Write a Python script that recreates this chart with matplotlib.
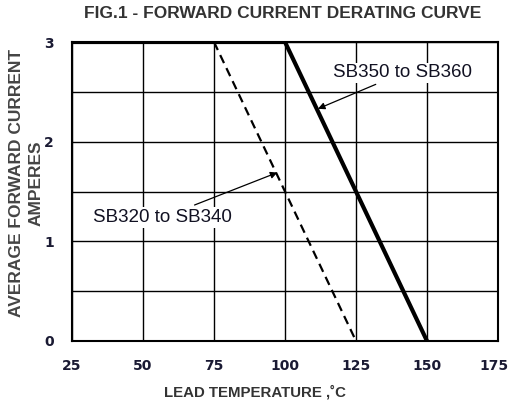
import matplotlib
matplotlib.use("Agg")
import matplotlib.pyplot as plt
import matplotlib.transforms as mtransforms
import numpy as np

# Data
temp_sb350 = [25, 100, 150]
curr_sb350 = [3, 3, 0]
temp_sb320 = [75, 125]
curr_sb320 = [3, 0]
x_ticks = [25, 50, 75, 100, 125, 150, 175]
y_ticks = [0, 1, 2, 3]
label_sb350 = "SB350 to SB360"
label_sb320 = "SB320 to SB340"

fig = plt.figure(figsize=(5.10, 4.07), dpi=100)
W, H = 510, 407
ax = fig.add_axes([72 / W, 1 - 341 / H, (498 - 72) / W, (341 - 42) / H])

ax.set_xlim(25, 175)
ax.set_ylim(0, 3)

# grid
for gx in np.arange(25, 176, 25):
    ax.axvline(gx, color="black", lw=1.0, zorder=1)
for gy in np.arange(0, 3.01, 0.5):
    ax.axhline(gy, color="black", lw=1.0, zorder=1)

ax.plot(temp_sb350, curr_sb350, color="black", lw=3.0, solid_capstyle="butt", zorder=3)
ax.plot(temp_sb320, curr_sb320, color="black", lw=1.6, linestyle=(0, (4, 2.5)), zorder=3)

for s in ax.spines.values():
    s.set_linewidth(1.5)

ax.set_xticks(x_ticks)
ax.set_yticks(y_ticks)
ax.tick_params(length=0, pad=13)
ax.tick_params(axis="y", pad=13)
for lab in ax.get_xticklabels() + ax.get_yticklabels():
    lab.set_fontfamily("DejaVu Sans")
    lab.set_fontweight("bold")
    lab.set_fontsize(10)
    lab.set_color("#1a1a33")

# keep the last x tick label inside the figure
last = ax.get_xticklabels()[-1]
last.set_transform(last.get_transform() +
                   mtransforms.ScaledTranslation(-4 / 100, 0, fig.dpi_scale_trans))

ax.annotate(label_sb350, xy=(111.6, 2.33), xytext=(141.5, 2.69),
            ha="center", va="center", fontsize=13.5, family="Liberation Sans",
            color="#111122",
            bbox=dict(boxstyle="square,pad=0.1", fc="white", ec="none"),
            arrowprops=dict(arrowstyle="-|>", color="black", lw=0.9,
                            shrinkA=2, shrinkB=0, mutation_scale=10),
            zorder=5)
ax.annotate(label_sb320, xy=(97.3, 1.69), xytext=(57, 1.24),
            ha="center", va="center", fontsize=13.5, family="Liberation Sans",
            color="#111122",
            bbox=dict(boxstyle="square,pad=0.1", fc="white", ec="none"),
            arrowprops=dict(arrowstyle="-|>", color="black", lw=0.9,
                            shrinkA=4, shrinkB=0, mutation_scale=10),
            zorder=5)

fig.text(283 / W, 1 - 14 / H, "FIG.1 - FORWARD CURRENT DERATING CURVE",
         ha="center", va="center", fontsize=12.5, fontweight="bold",
         family="Liberation Sans", color="#333333")
fig.text(255 / W, 1 - 392 / H, "LEAD TEMPERATURE ,\u02daC",
         ha="center", va="center", fontsize=10.8, fontweight="bold",
         family="Liberation Sans", color="#333333")
fig.text(26 / W, 1 - 183 / H, "AVERAGE FORWARD CURRENT\nAMPERES",
         ha="center", va="center", rotation=90, fontsize=12.5, fontweight="bold",
         family="Liberation Sans", color="#444444", linespacing=1.35,
         multialignment="center")

fig.savefig("out.png", dpi=100)
